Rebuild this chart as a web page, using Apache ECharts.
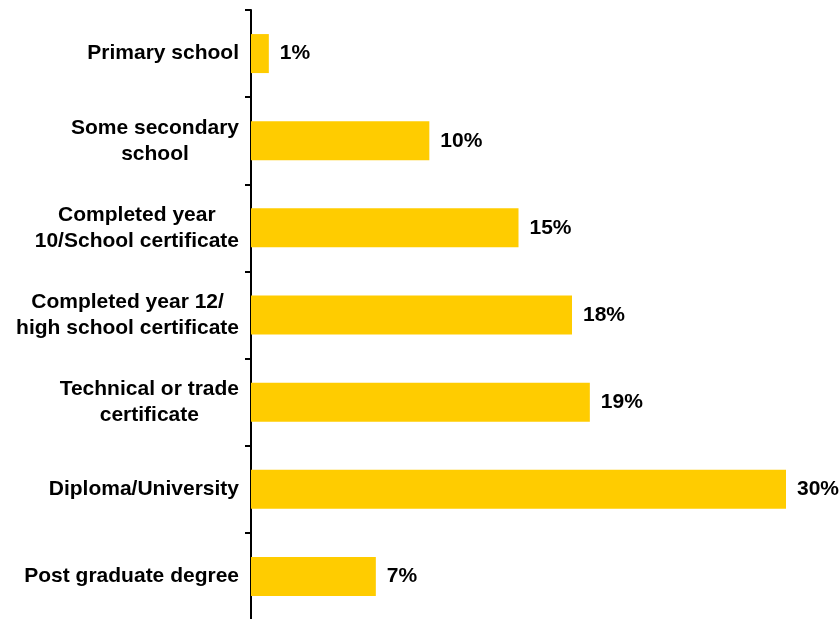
<!DOCTYPE html>
<html>
<head>
<meta charset="utf-8">
<script src="https://cdn.jsdelivr.net/npm/echarts@6/dist/echarts.min.js"></script>
<style>
  html, body { margin: 0; padding: 0; background: #fff; }
  #chart { width: 840px; height: 619px; }
</style>
</head>
<body>
<div id="chart"></div>
<script>
// categories top to bottom
const categories = [
  'Primary school',
  'Some secondary\nschool',
  'Completed year\n10/School certificate',
  'Completed year 12/\nhigh school certificate',
  'Technical or trade\ncertificate',
  'Diploma/University',
  'Post graduate degree'
];
// percentages
const values = [1, 10, 15, 18, 19, 30, 7];

const chart = echarts.init(document.getElementById('chart'));

const font = 'Liberation Sans, Arial, sans-serif';

chart.setOption({
  animation: false,
  grid: { left: 251, right: 54, top: 10, bottom: -1, outerBoundsMode: 'none' },
  xAxis: {
    type: 'value',
    min: 0,
    max: 30,
    show: false
  },
  yAxis: {
    type: 'category',
    data: categories,
    inverse: true,
    axisLine: { show: true, lineStyle: { color: '#000', width: 2 } },
    axisTick: { show: true, inside: false, length: 6, lineStyle: { color: '#000', width: 2 } },
    axisLabel: {
      margin: 12,
      formatter: v => v.split('\n').map(s => '{c|' + s + '}').join('\n'),
      rich: {
        c: {
          fontFamily: font,
          fontWeight: 'bold',
          fontSize: 21,
          lineHeight: 26,
          color: '#000',
          align: 'center'
        }
      }
    }
  },
  series: [{
    type: 'bar',
    data: values,
    barWidth: 39,
    itemStyle: { color: '#FFCC00' },
    label: {
      show: true,
      position: 'right',
      distance: 11,
      formatter: '{c}%',
      fontFamily: font,
      fontWeight: 'bold',
      fontSize: 21,
      color: '#000'
    }
  }]
});
</script>
</body>
</html>
